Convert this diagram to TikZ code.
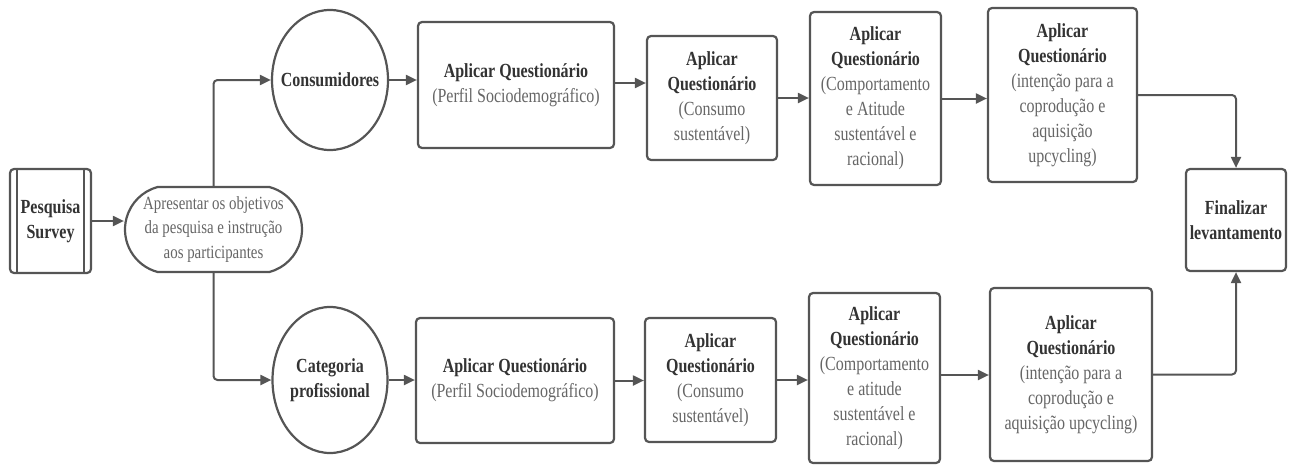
\documentclass[tikz,border=0pt]{standalone}
\usepackage{fontspec}
\setmainfont[FakeStretch=0.8]{Liberation Serif}
\usetikzlibrary{arrows.meta,shapes.geometric,shapes.misc}
\definecolor{lc}{HTML}{555555}
\definecolor{tb}{HTML}{333333}
\definecolor{tn}{HTML}{666666}
\newcommand{\hd}[1]{{\bfseries\color{tb}#1}}
\tikzset{
  lbl/.style={align=center, text=tn, font=\fontsize{20}{25}\selectfont, inner sep=0pt},
  stepbox/.style={lbl, draw=lc, line width=2.2pt, rounded corners=4pt, fill=white},
  ovalbox/.style={draw=lc, line width=2.2pt, ellipse, fill=white, inner sep=0pt},
  pillbox/.style={draw=lc, line width=2.2pt, rounded rectangle, rounded rectangle arc length=150, fill=white, inner sep=0pt},
  flow/.style={draw=lc, line width=2pt, rounded corners=4pt,
    -{Triangle[length=11pt,width=10pt]}},
}
\begin{document}
\begin{tikzpicture}[x=1pt,y=-1pt]
\useasboundingbox (0,0) rectangle (1294,466);

% start: predefined-process block
\node[stepbox, minimum width=81pt, minimum height=104pt] (pes) at (50.5,221) {\hd{Pesquisa}\\\hd{Survey}};
\draw[lc, line width=2pt] ([xshift=8pt]pes.north west) -- ([xshift=8pt]pes.south west)
  ([xshift=-8pt]pes.north east) -- ([xshift=-8pt]pes.south east);

\node[pillbox, minimum width=177pt, minimum height=85pt] (apr) at (213.5,229.5) {};
\node[lbl, font=\fontsize{18.6}{24.5}\selectfont] (aprtext) at (apr.center)
  {Apresentar os objetivos\\da pesquisa e instrução\\aos participantes};

% two respondent groups
\node[ovalbox, minimum width=116pt, minimum height=140pt] (cons) at (330,80) {};
\node[lbl] (constext) at (cons.center) {\hd{Consumidores}};
\node[ovalbox, minimum width=115pt, minimum height=146pt] (cat) at (330,380) {};
\node[lbl] (cattext) at (cat.center) {\hd{Categoria}\\\hd{profissional}};

% consumer track
\node[stepbox, minimum width=196pt, minimum height=126pt] (p1) at (516,85)
  {\hd{Aplicar Questionário}\\(Perfil Sociodemográfico)};
\node[stepbox, minimum width=130pt, minimum height=124pt] (c1) at (712,98)
  {\hd{Aplicar}\\\hd{Questionário}\\(Consumo\\sustentável)};
\node[stepbox, minimum width=131pt, minimum height=173pt] (k1) at (875.5,98.5)
  {\hd{Aplicar}\\\hd{Questionário}\\(Comportamento\\e Atitude\\sustentável e\\racional)};
\node[stepbox, minimum width=149pt, minimum height=174pt] (i1) at (1062.5,95)
  {\hd{Aplicar}\\\hd{Questionário}\\(intenção para a\\coprodução e\\aquisição\\upcycling)};

% professional track
\node[stepbox, minimum width=198pt, minimum height=125pt] (p2) at (515,380.5)
  {\hd{Aplicar Questionário}\\(Perfil Sociodemográfico)};
\node[stepbox, minimum width=131pt, minimum height=124pt] (c2) at (710.5,380)
  {\hd{Aplicar}\\\hd{Questionário}\\(Consumo\\sustentável)};
\node[stepbox, minimum width=131pt, minimum height=170pt] (k2) at (874.5,378)
  {\hd{Aplicar}\\\hd{Questionário}\\(Comportamento\\e atitude\\sustentável e\\racional)};
\node[stepbox, minimum width=162pt, minimum height=173pt] (i2) at (1071,374.5)
  {\hd{Aplicar}\\\hd{Questionário}\\(intenção para a\\coprodução e\\aquisição upcycling)};

% end
\node[stepbox, minimum width=100pt, minimum height=102pt] (fin) at (1236,220)
  {\hd{Finalizar}\\\hd{levantamento}};

% connectors
\draw[flow] (pes.east) -- (pes.east -| apr.west);
\draw[flow] (apr.north) |- (cons.west);
\draw[flow] (apr.south) |- (cat.west);
\draw[flow] (cons.east) -- (cons.east -| p1.west);
\draw[flow] ([yshift=2pt]p1.east) -- ([yshift=2pt]p1.east -| c1.west);
\draw[flow] (c1.east) -- (c1.east -| k1.west);
\draw[flow] (k1.east) -- (k1.east -| i1.west);
\draw[flow] (i1.east) -| (fin.north);
\draw[flow] (cat.east) -- (cat.east -| p2.west);
\draw[flow] (p2.east) -- (p2.east -| c2.west);
\draw[flow] (c2.east) -- (c2.east -| k2.west);
\draw[flow] ([yshift=3pt]k2.east) -- ([yshift=3pt]k2.east -| i2.west);
\draw[flow] (i2.east) -| (fin.south);
\end{tikzpicture}
\end{document}
